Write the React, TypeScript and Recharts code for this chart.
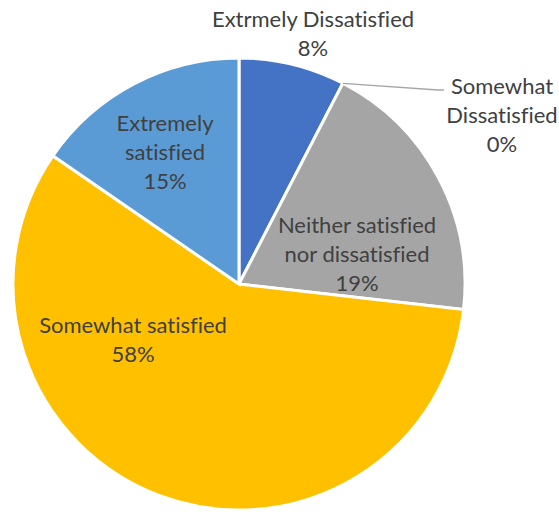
import React from "react";
import { PieChart, Pie, Cell } from "recharts";

const categories = [
  "Extrmely Dissatisfied",
  "Somewhat Dissatisfied",
  "Neither satisfied nor dissatisfied",
  "Somewhat satisfied",
  "Extremely satisfied",
];
const labelLines = [
  ["Extrmely Dissatisfied"],
  ["Somewhat", "Dissatisfied"],
  ["Neither satisfied", "nor dissatisfied"],
  ["Somewhat satisfied"],
  ["Extremely", "satisfied"],
];
const values = [7.6, 0, 19.2, 57.8, 15.4];
const colors = ["#4472C4", "#ED7D31", "#A5A5A5", "#FFC000", "#5B9BD5"];

const data = categories.map((name, i) => ({ name, value: values[i] }));

// label centre offsets relative to pie centre (px), first line centre
const LABEL_POS = [
  { dx: 74, dy: -266 },
  { dx: 263, dy: -199 },
  { dx: 118, dy: -60 },
  { dx: -106, dy: 40 },
  { dx: -74, dy: -162 },
];
const LINE_H = 29;
const TEXT_COLOR = "#404040";

const renderLabel = (props: any) => {
  const { cx, cy, index, percent, midAngle, outerRadius } = props;
  const p = LABEL_POS[index];
  const x = cx + p.dx;
  const y = cy + p.dy;
  const lines = [...labelLines[index], `${Math.round(percent * 100)}%`];
  const RAD = Math.PI / 180;
  let leader = null;
  if (index === 1) {
    const sx = cx + outerRadius * Math.cos(-midAngle * RAD);
    const sy = cy + outerRadius * Math.sin(-midAngle * RAD);
    leader = (
      <polyline
        points={`${sx},${sy} ${x - 64},${y + 5} ${x - 58},${y + 5}`}
        fill="none"
        stroke="#A6A6A6"
        strokeWidth={1.3}
      />
    );
  }
  return (
    <g key={`lbl-${index}`}>
      {leader}
      <text
        x={x}
        y={y}
        fill={TEXT_COLOR}
        textAnchor="middle"
        dominantBaseline="central"
        fontFamily="Lato, 'Open Sans', sans-serif"
        fontSize={22}
        style={{ fontVariantLigatures: "none" }}
      >
        {lines.map((l, i) => (
          <tspan key={i} x={x} y={y + i * LINE_H}>
            {l}
          </tspan>
        ))}
      </text>
    </g>
  );
};

export default function App() {
  return (
    <div style={{ position: "absolute", left: 0, top: 0, background: "#fff" }}>
      <PieChart width={559} height={512} margin={{ top: 0, right: 0, bottom: 0, left: 0 }}>
        <Pie
          data={data}
          dataKey="value"
          nameKey="name"
          cx={239}
          cy={284}
          outerRadius={226}
          startAngle={90}
          endAngle={-270}
          stroke="#ffffff"
          strokeWidth={3}
          label={renderLabel}
          labelLine={false}
          isAnimationActive={false}
        >
          {data.map((d, i) => (
            <Cell key={d.name} fill={colors[i]} />
          ))}
        </Pie>
      </PieChart>
    </div>
  );
}
